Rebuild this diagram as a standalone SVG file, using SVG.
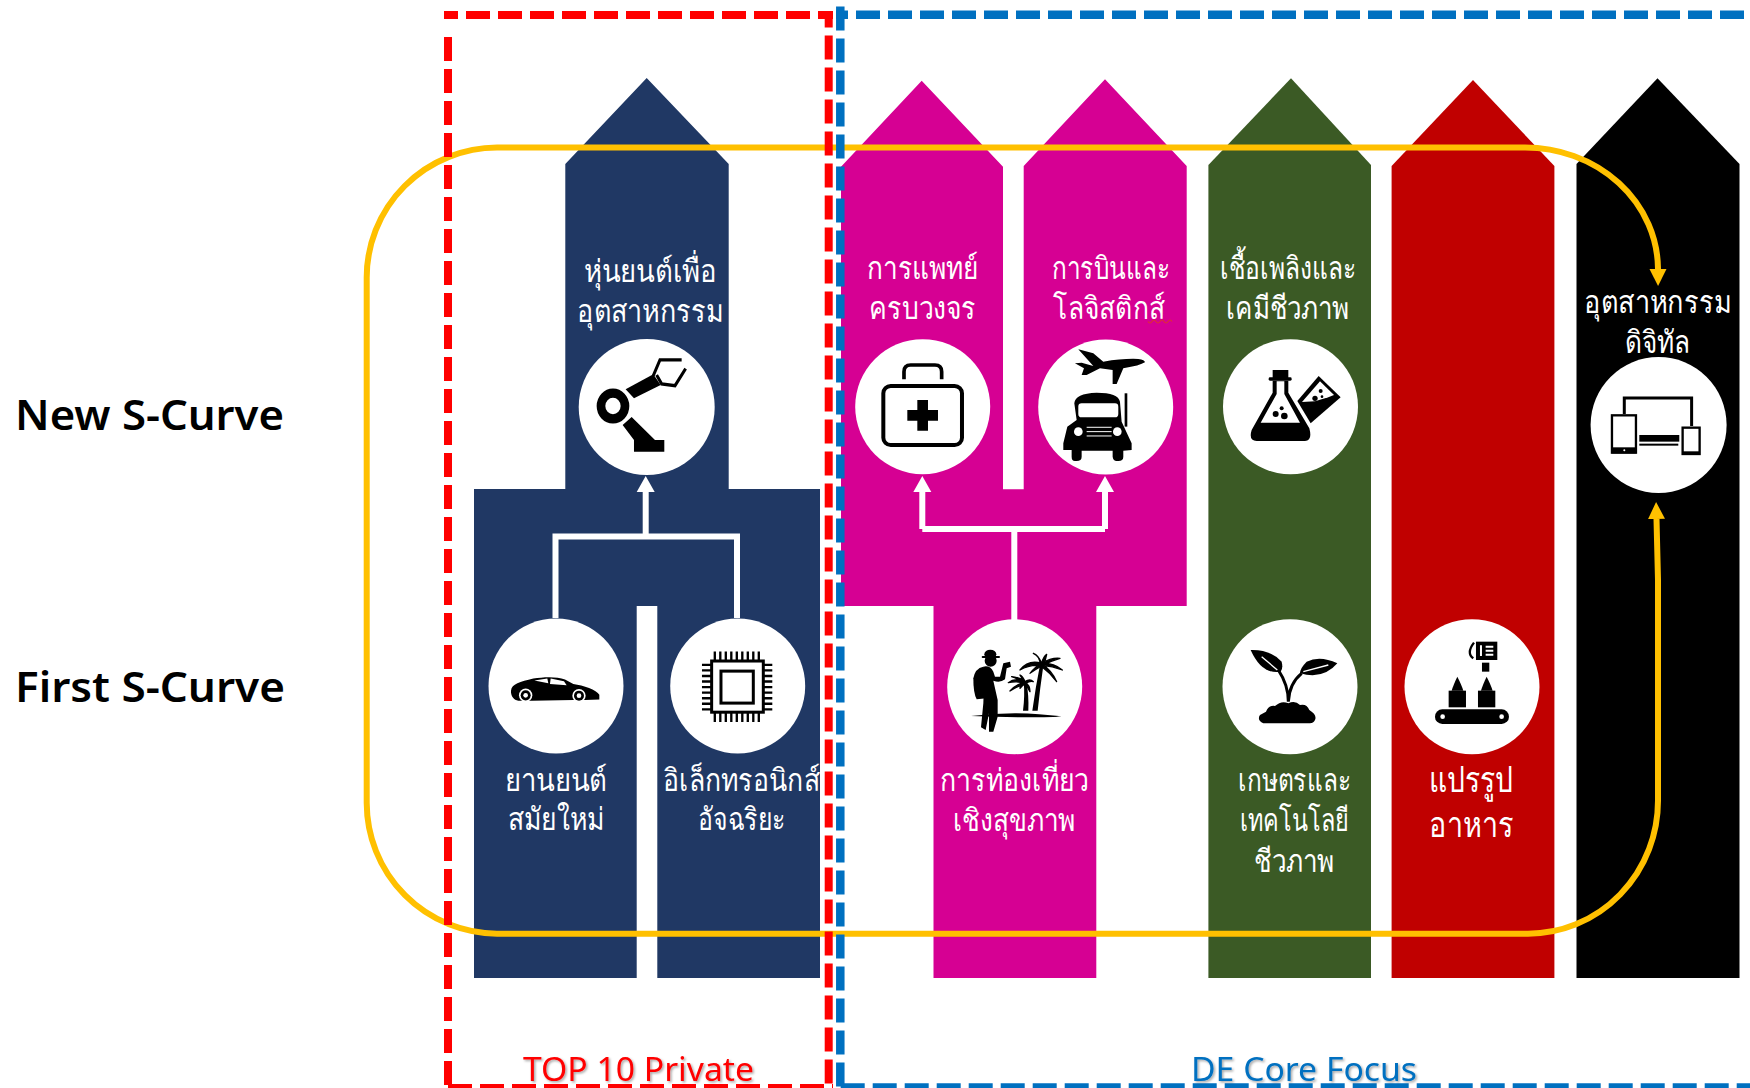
<svg xmlns="http://www.w3.org/2000/svg" width="1750" height="1088" viewBox="0 0 1750 1088">
<style>
text{font-family:"Noto Sans","DejaVu Sans",sans-serif}
.t{fill:#fff;font-size:31px}
.h{fill:#000;font-size:42px;font-weight:600}
.c{fill:#fff}
.w{fill:none;stroke:#fff;stroke-width:6}
.y{fill:none;stroke:#ffc000;stroke-width:6}
.rd{fill:none;stroke:#f00;stroke-width:8;stroke-dasharray:24 8}
.bd{fill:none;stroke:#0070c0;stroke-width:8.5;stroke-dasharray:24 8}
.k{fill:#000}
.s{fill:none;stroke:#000}
.wf{fill:#fff}
.fr{fill:#000;stroke:#000;stroke-width:4;stroke-linejoin:round}
.lab{font-size:32px;filter:url(#sh)}
</style>
<defs>
<filter id="sh" x="-5%" y="-20%" width="110%" height="140%"><feDropShadow dx="1.5" dy="1.5" stdDeviation="1" flood-color="#000" flood-opacity=".35"/></filter>
<marker id="wa" markerUnits="userSpaceOnUse" markerWidth="18" markerHeight="20" refX="0" refY="9.5" orient="auto" viewBox="0 0 18 19"><path d="M0,0.5 L16,9.5 L0,18.5Z" fill="#fff"/></marker>
<marker id="ya" markerUnits="userSpaceOnUse" markerWidth="18" markerHeight="20" refX="0" refY="9.5" orient="auto-start-reverse" viewBox="0 0 18 19"><path d="M0,1 L17,9.5 L0,18Z" fill="#ffc000"/></marker>
</defs>
<rect width="1750" height="1088" fill="#fff"/>

<g id="row-labels">
<text class="h" x="15" y="430" textLength="269" lengthAdjust="spacingAndGlyphs">New S-Curve</text>
<text class="h" x="15" y="702" textLength="270" lengthAdjust="spacingAndGlyphs">First S-Curve</text>
</g>

<g id="node-navy">
<polygon fill="#203864" points="646.7,78 728.7,164 728.7,489 820,489 820,978 657.3,978 657.3,606 636.7,606 636.7,978 474,978 474,489 565.3,489 565.3,164"/>
<g id="node-robot">
<circle class="c" cx="646.7" cy="407" r="68"/>
<g transform="translate(440 0) scale(.3333 .3571)">
<circle class="s" cx="519" cy="1137" r="36" stroke-width="26"/>
<polygon class="k" points="557,1090 640,1048 662,1078 582,1115"/>
<polygon class="k" points="548,1190 575,1168 645,1232 673,1232 673,1265 582,1265 582,1232"/>
<path class="s" stroke-width="9" d="M640,1052 L660,1008 H725 M650,1050 L665,1075 L705,1080 L737,1032"/>
</g>
<text class="t" x="584" y="282" textLength="133" lengthAdjust="spacingAndGlyphs">หุ่นยนต์เพื่อ</text>
<text class="t" x="577" y="322" textLength="146" lengthAdjust="spacingAndGlyphs">อุตสาหกรรม</text>
</g>
<g id="node-car">
<circle class="c" cx="556" cy="686" r="67.5"/>
<g transform="translate(440 560) scale(.3333 .3367)">
<path class="k" d="M213,388 C215,368 240,362 280,352 C310,347 350,345 375,355 L400,368 C430,372 470,385 478,400 L478,414 L435,416 L400,416 L275,418 L235,418 C222,415 212,405 213,388Z"/>
<path class="wf" d="M283,358 L322,352 L325,366 Z M332,352 L372,360 L380,372 L330,368Z"/>
<circle cx="257" cy="402" r="20" class="c"/><circle cx="257" cy="402" r="15" class="k"/><circle cx="257" cy="402" r="7" class="c"/>
<circle cx="417" cy="403" r="20" class="c"/><circle cx="417" cy="403" r="15" class="k"/><circle cx="417" cy="403" r="7" class="c"/>
</g>
<text class="t" x="505" y="790.5" textLength="102" lengthAdjust="spacingAndGlyphs">ยานยนต์</text>
<text class="t" x="508" y="830" textLength="96" lengthAdjust="spacingAndGlyphs">สมัยใหม่</text>
</g>
<g id="node-chip">
<circle class="c" cx="737.7" cy="686" r="67.5"/>
<g transform="translate(440 560) scale(.3333 .3367)">
<rect class="s" x="815" y="300" width="155" height="152" stroke-width="9"/>
<rect class="s" x="843" y="330" width="97" height="95" stroke-width="9"/>
<path class="s" stroke-width="28" stroke-dasharray="7 9.5" d="M821,286 H966 M821,467 H966"/>
<path class="s" stroke-width="28" stroke-dasharray="7 9.5" d="M800,308 V450 M983,308 V450"/>
</g>
<text class="t" x="663" y="790.5" textLength="157" lengthAdjust="spacingAndGlyphs">อิเล็กทรอนิกส์</text>
<text class="t" x="698" y="830" textLength="88" lengthAdjust="spacingAndGlyphs">อัจฉริยะ</text>
</g>
</g>

<g id="node-magenta">
<polygon fill="#d60093" points="921.7,80.7 1003,166.7 1003,489.3 1023.7,489.3 1023.7,166 1105,79.3 1186.7,166 1186.7,606 1096.3,606 1096.3,978 933.5,978 933.5,606 841,606 841,166.7"/>
<g id="node-medical">
<circle class="c" cx="922.7" cy="406.7" r="67.5"/>
<g transform="translate(830 60) scale(.3333)">
<rect class="s" x="160" y="978" width="236" height="177" rx="22" stroke-width="12"/>
<path class="s" stroke-width="11" d="M222,958 V935 Q222,915 242,915 H315 Q335,915 335,935 V958"/>
<path class="k" d="M262,1020 H294 V1050 H324 V1082 H294 V1112 H262 V1082 H232 V1050 H262Z"/>
</g>
<text class="t" x="867" y="279" textLength="111" lengthAdjust="spacingAndGlyphs">การแพทย์</text>
<text class="t" x="869" y="319" textLength="107" lengthAdjust="spacingAndGlyphs">ครบวงจร</text>
</g>
<g id="node-aviation">
<circle class="c" cx="1105.7" cy="407" r="67.5"/>
<g transform="translate(830 60) scale(.3333)">
<path class="k" d="M745,868 L790,880 L820,905 Q880,895 925,897 Q945,900 945,907 Q930,917 880,925 L860,972 L848,972 L848,930 L810,925 L770,945 L755,945 L762,925 L735,910 L755,908 L790,918Z"/>
<path class="k" d="M740,1080 L733,1030 Q735,1000 800,998 Q865,998 870,1025 L875,1085 L905,1150 V1170 L880,1172 V1190 Q880,1203 865,1203 H860 Q850,1203 848,1190 V1172 H755 V1190 Q755,1203 740,1203 H735 Q725,1203 725,1190 V1170 H700 V1150 L712,1100Z"/>
<rect class="wf" x="745" y="1030" width="120" height="42" rx="10"/>
<circle class="c" cx="745" cy="1115" r="13"/><circle class="c" cx="862" cy="1115" r="13"/>
<path fill="none" stroke="#fff" stroke-width="3" d="M770,1102 H845 M770,1115 H845 M770,1128 H845"/>
<rect class="k" x="884" y="1000" width="8" height="100"/>
</g>
<text class="t" x="1052" y="279" textLength="118" lengthAdjust="spacingAndGlyphs">การบินและ</text>
<text class="t" x="1053" y="319" textLength="112" lengthAdjust="spacingAndGlyphs">โลจิสติกส์</text>
<path fill="none" stroke="#e03030" stroke-width="1.2" d="M1148,321.5 q2,3 4,0 t4,0 t4,0 t4,0 t4,0 t4,0"/>
</g>
<g id="node-tourism">
<circle class="c" cx="1014.7" cy="686.7" r="67.5"/>
<g transform="translate(945 620) scale(.3333)">
<path class="k" d="M85,175 Q90,145 115,140 L125,150 V235 L95,238 Q85,220 85,175Z"/>
<circle class="k" cx="137" cy="122" r="18"/>
<ellipse class="k" cx="136" cy="103" rx="18" ry="14"/><rect class="k" x="110" y="108" width="55" height="6" rx="3"/>
<path class="k" d="M115,140 Q135,135 145,155 L150,170 L165,170 L175,130 L195,125 L198,140 L185,145 L180,178 Q165,190 145,182 L158,240 L158,290 L145,335 L132,335 L132,280 L122,330 L108,322 L115,250 L118,160Z"/>
<path class="k" d="M78,288 Q220,270 350,290 Q220,294 78,288Z"/>
<path class="k" d="M262,272 Q272,200 285,135 L295,137 Q285,205 278,272Z"/>
<path class="k" d="M234,272 Q240,225 236,185 L244,185 Q252,225 250,272Z"/>
<path class="fr" d="M290,130 Q250,118 225,150 Q255,132 290,137Z M290,130 Q280,105 265,100 Q285,108 286,135Z M290,130 Q295,110 305,103 Q303,118 294,135Z M290,130 Q320,112 345,115 Q320,122 293,136Z M290,130 Q325,128 352,150 Q322,138 292,136Z M290,132 Q320,150 335,185 Q315,158 288,138Z M288,132 Q270,140 255,160 Q272,148 290,138Z"/>
<path class="fr" d="M240,185 Q210,172 190,188 Q215,182 240,190Z M240,185 Q225,172 200,170 Q225,178 238,190Z M240,185 Q235,170 225,165 Q233,175 237,190Z M240,185 Q255,175 265,185 Q255,182 242,190Z M240,187 Q255,195 255,215 Q248,200 238,190Z M240,187 Q225,190 225,205 Q232,195 243,190Z M240,187 Q212,193 195,213 Q218,198 243,190Z"/>
</g>
<text class="t" x="940" y="790.7" textLength="149" lengthAdjust="spacingAndGlyphs">การท่องเที่ยว</text>
<text class="t" x="953" y="830.7" textLength="122" lengthAdjust="spacingAndGlyphs">เชิงสุขภาพ</text>
</g>
</g>

<g id="node-green">
<polygon fill="#3b5a25" points="1291,78.3 1371,165 1371,978 1208.4,978 1208.4,165"/>
<g id="node-biochem">
<circle class="c" cx="1290.5" cy="406.7" r="67.5"/>
<g transform="translate(1220 340) scale(.3333)">
<rect class="k" x="158" y="90" width="47" height="24"/><rect class="k" x="146" y="112" width="69" height="10" rx="4"/>
<path class="k" d="M158,122 V158 L95,270 Q85,302 110,303 H255 Q278,302 268,265 L205,158 V122Z"/>
<path class="wf" d="M170,124 H193 V162 L240,248 H122 L170,162Z"/>
<circle class="k" cx="167" cy="222" r="9"/><circle class="k" cx="193" cy="228" r="10"/><circle class="k" cx="185" cy="205" r="6"/>
<path class="k" d="M232,183 L296,108 L362,172 L272,250Z"/>
<path class="wf" d="M246,186 L300,124 L342,165 L325,172 L285,184 Z"/>
<circle class="k" cx="285" cy="175" r="8"/><circle class="k" cx="302" cy="153" r="6"/><circle class="k" cx="306" cy="170" r="4"/>
</g>
<text class="t" x="1220" y="279" textLength="136" lengthAdjust="spacingAndGlyphs">เชื้อเพลิงและ</text>
<text class="t" x="1226" y="319" textLength="123" lengthAdjust="spacingAndGlyphs">เคมีชีวภาพ</text>
</g>
<g id="node-agri">
<circle class="c" cx="1290" cy="686.7" r="67.5"/>
<g transform="translate(1220 620) scale(.3333)">
<path class="s" stroke-width="9" d="M205,245 Q205,195 175,150 M205,245 Q208,190 245,160"/>
<path class="k" d="M92,90 Q150,88 185,125 Q190,145 182,155 Q125,165 92,90Z"/>
<path fill="none" stroke="#fff" stroke-width="4" d="M125,110 L172,150"/>
<path class="k" d="M352,130 Q300,105 260,125 Q240,145 240,160 Q310,180 352,130Z"/>
<path fill="none" stroke="#fff" stroke-width="4" d="M325,135 L250,155"/>
<path class="k" d="M130,310 Q110,300 120,285 L138,275 Q145,255 165,258 Q185,240 205,250 Q225,240 240,255 Q260,250 268,270 Q292,285 285,300 Q280,310 270,310Z"/>
</g>
<text class="t" x="1238" y="790.7" textLength="113" lengthAdjust="spacingAndGlyphs">เกษตรและ</text>
<text class="t" x="1240" y="830.7" textLength="109" lengthAdjust="spacingAndGlyphs">เทคโนโลยี</text>
<text class="t" x="1254" y="871.7" textLength="80" lengthAdjust="spacingAndGlyphs">ชีวภาพ</text>
</g>
</g>

<g id="node-red">
<polygon fill="#c00000" points="1473,80 1554.4,166 1554.4,978 1391.6,978 1391.6,166"/>
<g id="node-food">
<circle class="c" cx="1472" cy="686.7" r="67.5"/>
<g transform="translate(1220 620) scale(.3333)">
<rect class="k" x="768" y="65" width="64" height="55"/>
<path fill="none" stroke="#fff" stroke-width="6" d="M783,76 V108 M797,80 H820 M797,92 H820 M797,104 H820"/>
<path class="s" stroke-width="7" d="M762,68 Q738,100 760,115"/>
<rect class="k" x="786" y="128" width="22" height="27"/>
<rect class="k" x="686" y="212" width="52" height="50"/>
<path class="k" d="M695,212 Q700,195 712,170 Q725,195 730,212Z"/>
<rect class="k" x="774" y="212" width="52" height="50"/>
<path class="k" d="M783,212 Q788,195 800,170 Q813,195 818,212Z"/>
<rect class="k" x="645" y="268" width="222" height="44" rx="22"/>
<circle class="c" cx="668" cy="290" r="7"/><circle class="c" cx="845" cy="290" r="7"/>
</g>
<text class="t" x="1429" y="791.7" style="font-size:36px" textLength="84" lengthAdjust="spacingAndGlyphs">แปรรูป</text>
<text class="t" x="1429" y="837" style="font-size:36px" textLength="84" lengthAdjust="spacingAndGlyphs">อาหาร</text>
</g>
</g>

<g id="node-black">
<polygon fill="#000" points="1657.5,78.3 1739.5,164 1739.5,978 1576.5,978 1576.5,164"/>
<g id="node-digital">
<circle class="c" cx="1658.6" cy="425" r="68"/>
<g transform="translate(1220 340) scale(.3333)">
<path class="s" stroke-width="9" d="M1213,222 V174 H1415 V258"/>
<rect class="s" x="1176" y="226" width="72" height="112" stroke-width="7"/>
<rect class="k" x="1176" y="322" width="72" height="18"/>
<circle class="c" cx="1213" cy="331" r="3"/>
<rect class="s" x="1388" y="263" width="51" height="79" stroke-width="7"/>
<rect class="k" x="1388" y="334" width="51" height="9"/>
<rect class="k" x="1258" y="285" width="120" height="20"/>
<rect class="k" x="1258" y="311" width="117" height="6"/>
</g>
<text class="t" x="1584" y="313" textLength="147" lengthAdjust="spacingAndGlyphs">อุตสาหกรรม</text>
<text class="t" x="1625" y="352.7" textLength="65" lengthAdjust="spacingAndGlyphs">ดิจิทัล</text>
</g>
</g>

<g id="connectors">
<path class="w" d="M555.5,618 V536.5 H737 V618"/>
<path class="w" marker-end="url(#wa)" d="M645.7,536.5 V492"/>
<path class="w" marker-end="url(#wa)" d="M922.3,529 V492"/>
<path class="w" marker-end="url(#wa)" d="M1105,529 V492"/>
<path class="w" d="M922.3,529 H1105 M1014.3,529 V620"/>
<path class="y" marker-start="url(#ya)" marker-end="url(#ya)" d="M1656.5,519 L1658,580 V800 A130,133 0 0 1 1528,933.7 H497 A131,131 0 0 1 366.7,803 V278 A131,130 0 0 1 497,147.5 H1525 A133,122 0 0 1 1658,269"/>
</g>

<g id="group-top10">
<path class="rd" stroke-dashoffset="10" d="M444,15 H833"/>
<path class="rd" stroke-dashoffset="7.4" d="M828.7,11 V1088"/>
<path class="rd" d="M448,37 V1088"/>
<path class="rd" d="M448,15 V19"/>
<path class="rd" stroke-dashoffset="28" d="M444,1088 H833"/>
<text class="lab" x="523" y="1081" fill="#f00" textLength="231" lengthAdjust="spacingAndGlyphs">TOP 10 Private</text>
</g>
<g id="group-de">
<path class="bd" stroke-dashoffset="12" d="M836,14.7 H1750"/>
<path class="bd" d="M840.3,6.6 V1088"/>
<path class="bd" stroke-dashoffset="27.3" d="M836,1087.5 H1750"/>
<text class="lab" x="1191" y="1081" fill="#0070c0" textLength="226" lengthAdjust="spacingAndGlyphs">DE Core Focus</text>
</g>
</svg>
